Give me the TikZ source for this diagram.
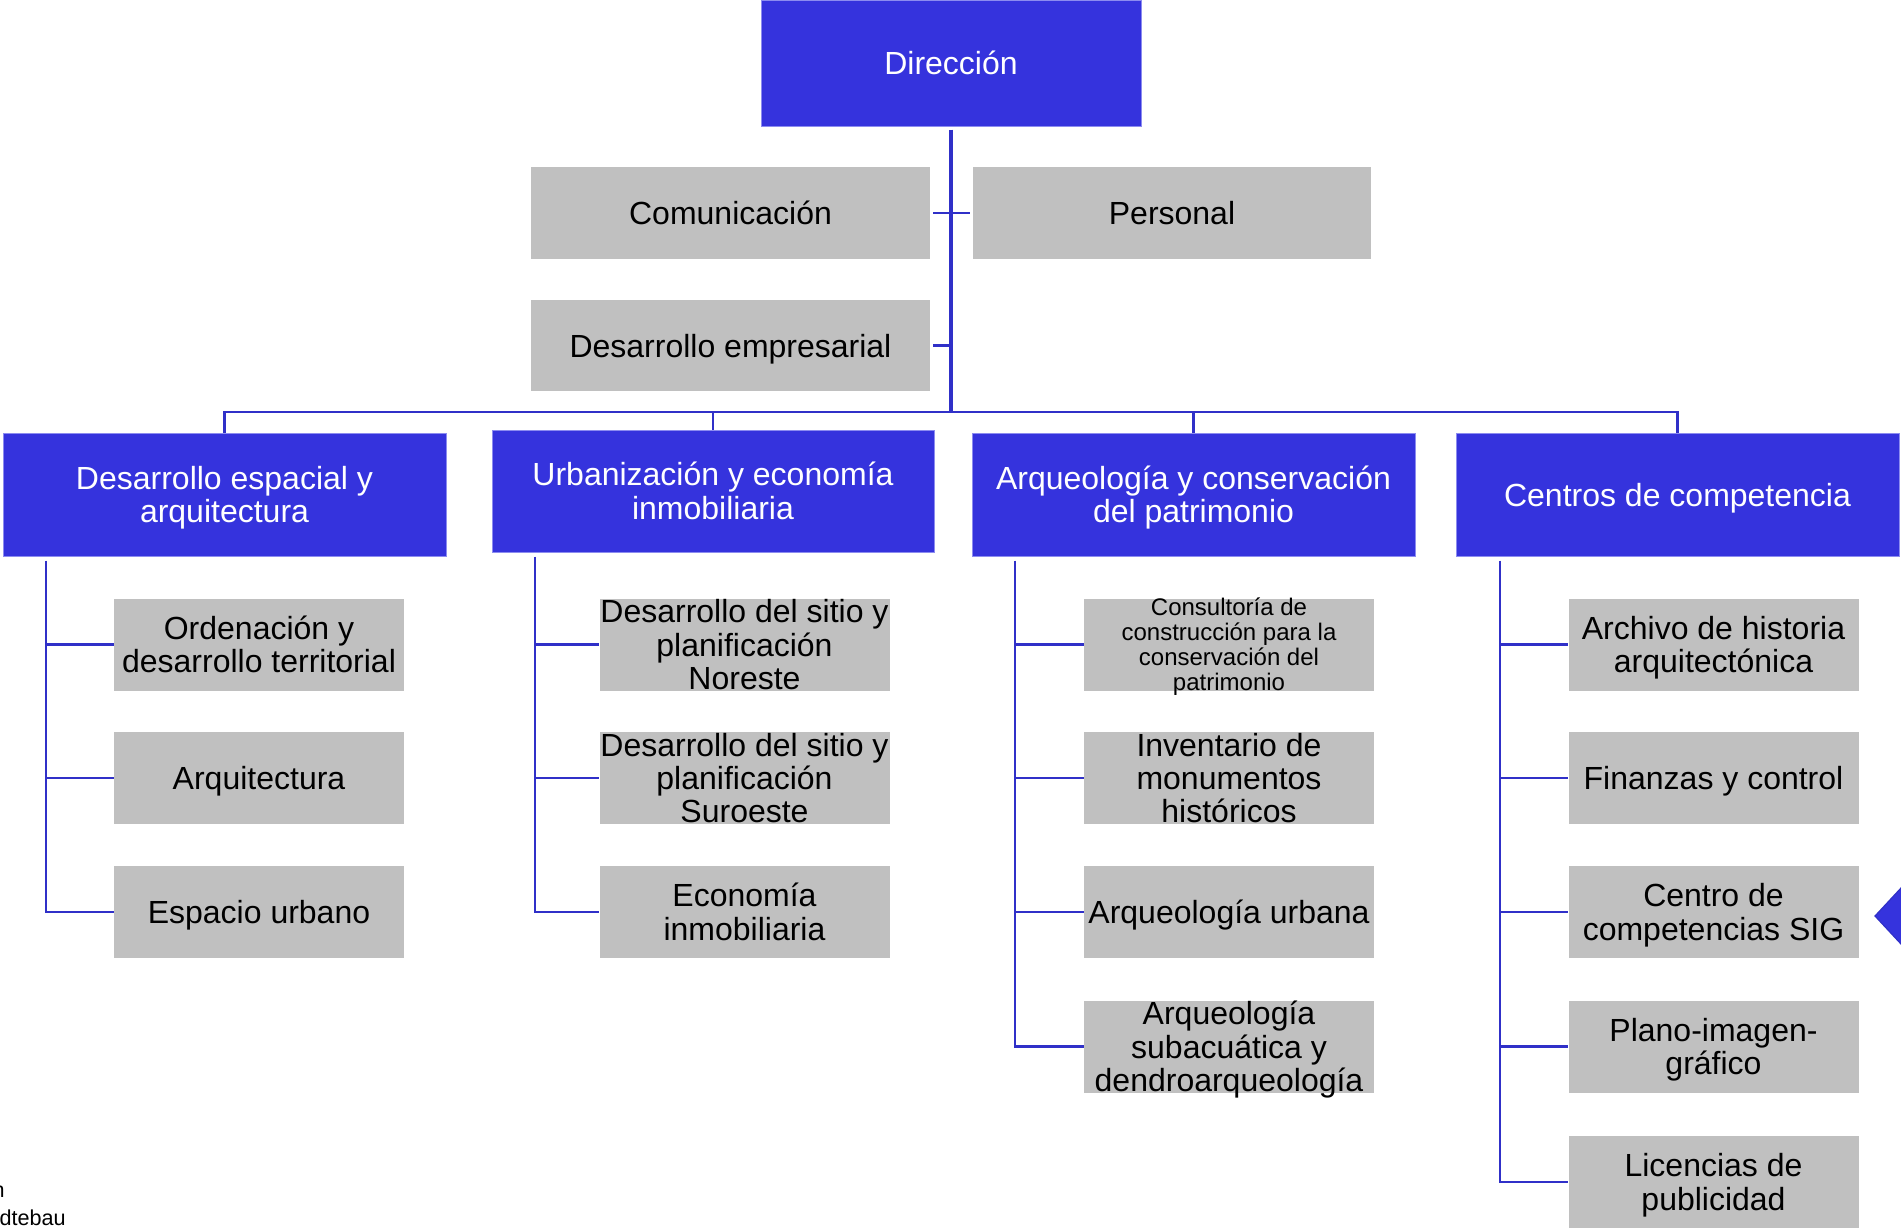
\documentclass[tikz,border=0pt]{standalone}
\usepackage{fontspec}
\setmainfont{Liberation Sans}
\definecolor{bfill}{RGB}{53,51,221}
\definecolor{bedge}{RGB}{140,140,240}
\definecolor{lblue}{RGB}{48,48,200}
\definecolor{gfill}{RGB}{192,192,192}
\newcommand\sst{\rule[-3.5pt]{0pt}{18.5pt}}
\newcommand\ssts{\rule[-2.6pt]{0pt}{13.85pt}}
\newcommand\nl{\\\sst}
\newcommand\nls{\\\ssts}
\newcommand\bigf{\fontsize{16}{16.6}\selectfont}
\newcommand\smallf{\fontsize{12}{12.5}\selectfont}
\lineskiplimit=-100pt
% gray box: fixed-size box plus text laid over it (text may overflow as in the reference)
\newcommand\gbox[4][]{%
  \node[graybox,#1] (#2) at (#3) {};
  \node[graytext,#1] (#2-t) at (#2.center) {#4};}
\begin{document}
\begin{tikzpicture}[x=0.5pt,y=-0.5pt,
  bluebox/.style={fill=bfill,draw=bedge,line width=0.5pt,text=white,inner sep=0pt,align=center,font=\bigf},
  graybox/.style={fill=gfill,draw=none,inner sep=0pt,minimum width=145pt,minimum height=46pt},
  graytext/.style={inner sep=0pt,align=center,font=\bigf},
  smalltext/.style={font=\smallf},
  trunk/.style={draw=lblue,line width=2pt},
  link/.style={draw=lblue,line width=1.4pt}]
\useasboundingbox (0,0) rectangle (1901,1228);
% top
\node[bluebox,minimum width=190pt,minimum height=63pt] (dir) at (951,63) {\sst Dirección};
\gbox[minimum width=199.5pt]{com}{730.5,213}{\sst Comunicación}
\gbox[minimum width=199pt]{per}{1172,213}{\sst Personal}
\gbox[minimum width=199.5pt,minimum height=45.5pt]{demp}{730.5,345.5}{\sst Desarrollo empresarial}
% level 2
\node[bluebox,minimum width=221.5pt,minimum height=61.5pt] (b1) at (224.5,494.5) {\sst Desarrollo espacial y\nl arquitectura};
\node[bluebox,minimum width=221pt,minimum height=61pt] (b2) at (713,491) {\sst Urbanización y economía\nl inmobiliaria};
\node[bluebox,minimum width=221.5pt,minimum height=61.5pt] (b3) at (1193.5,494.5) {\sst Arqueología y conservación\nl del patrimonio};
\node[bluebox,minimum width=221.5pt,minimum height=61.5pt] (b4) at (1677.5,494.5) {\sst Centros de competencia};
% column 1
\gbox{a1}{259,644.5}{\sst Ordenación y\nl desarrollo territorial}
\gbox{a2}{259,778}{\sst Arquitectura}
\gbox{a3}{259,912}{\sst Espacio urbano}
% column 2
\gbox{c1}{744.5,644.5}{\sst Desarrollo del sitio y\nl planificación\nl Noreste}
\gbox{c2}{744.5,778}{\sst Desarrollo del sitio y\nl planificación\nl Suroeste}
\gbox{c3}{744.5,912}{\sst Economía\nl inmobiliaria}
% column 3
\gbox[smalltext]{d1}{1229,644.5}{\ssts Consultoría de\nls construcción para la\nls conservación del\nls patrimonio}
\gbox{d2}{1229,778}{\sst Inventario de\nl monumentos\nl históricos}
\gbox{d3}{1229,912}{\sst Arqueología urbana}
\gbox{d4}{1229,1046.5}{\sst Arqueología\nl subacuática y\nl dendroarqueología}
% column 4
\gbox{e1}{1713.5,644.5}{\sst Archivo de historia\nl arquitectónica}
\gbox{e2}{1713.5,778}{\sst Finanzas y control}
\gbox{e3}{1713.5,912}{\sst Centro de\nl competencias SIG}
\gbox{e4}{1713.5,1046.5}{\sst Plano-imagen-\nl gráfico}
\gbox{e5}{1713.5,1182}{\sst Licencias de\nl publicidad}
% connectors top
\coordinate (bar) at (951,412);
\draw[trunk] ([yshift=-1.5pt]dir.south) -- (bar);
\draw[link,shorten <=1.5pt,shorten >=1.5pt] (com.east) -- (per.west);
\draw[link,shorten <=1.5pt] (demp.east) -- (demp.east -| bar);
\draw[link] (b1.north) |- (bar) -| (b4.north);
\draw[link] (b2.north) -- (b2.north |- bar);
\draw[link] (b3.north) -- (b3.north |- bar);
% column lines
\coordinate (v1) at (46,0);
\coordinate (v2) at (535,0);
\coordinate (v3) at (1015,0);
\coordinate (v4) at (1500,0);
\draw[link] ([yshift=-2pt]v1 |- b1.south) |- (a3.west);
\draw[link] (v1 |- a1.west) -- (a1.west);
\draw[link] (v1 |- a2.west) -- (a2.west);
\draw[link] ([yshift=-2pt]v2 |- b2.south) |- (c3.west);
\draw[link] (v2 |- c1.west) -- (c1.west);
\draw[link] (v2 |- c2.west) -- (c2.west);
\draw[link] ([yshift=-2pt]v3 |- b3.south) |- (d4.west);
\draw[link] (v3 |- d1.west) -- (d1.west);
\draw[link] (v3 |- d2.west) -- (d2.west);
\draw[link] (v3 |- d3.west) -- (d3.west);
\draw[link] ([yshift=-2pt]v4 |- b4.south) |- (e5.west);
\draw[link] (v4 |- e1.west) -- (e1.west);
\draw[link] (v4 |- e2.west) -- (e2.west);
\draw[link] (v4 |- e3.west) -- (e3.west);
\draw[link] (v4 |- e4.west) -- (e4.west);
% right-edge diamond
\fill[bfill,draw=lblue,line width=0.6pt] (1875,916) -- (1901,888) -- (1929,916) -- (1901,944) -- cycle;
% bottom-left fragments
\node[anchor=base east,inner sep=0pt,font=\fontsize{10.8}{13}\selectfont] (t1) at (5,1197) {n};
\node[anchor=base east,inner sep=0pt,font=\fontsize{10.8}{13}\selectfont] (t2) at (66,1225) {dtebau};
\end{tikzpicture}
\end{document}
